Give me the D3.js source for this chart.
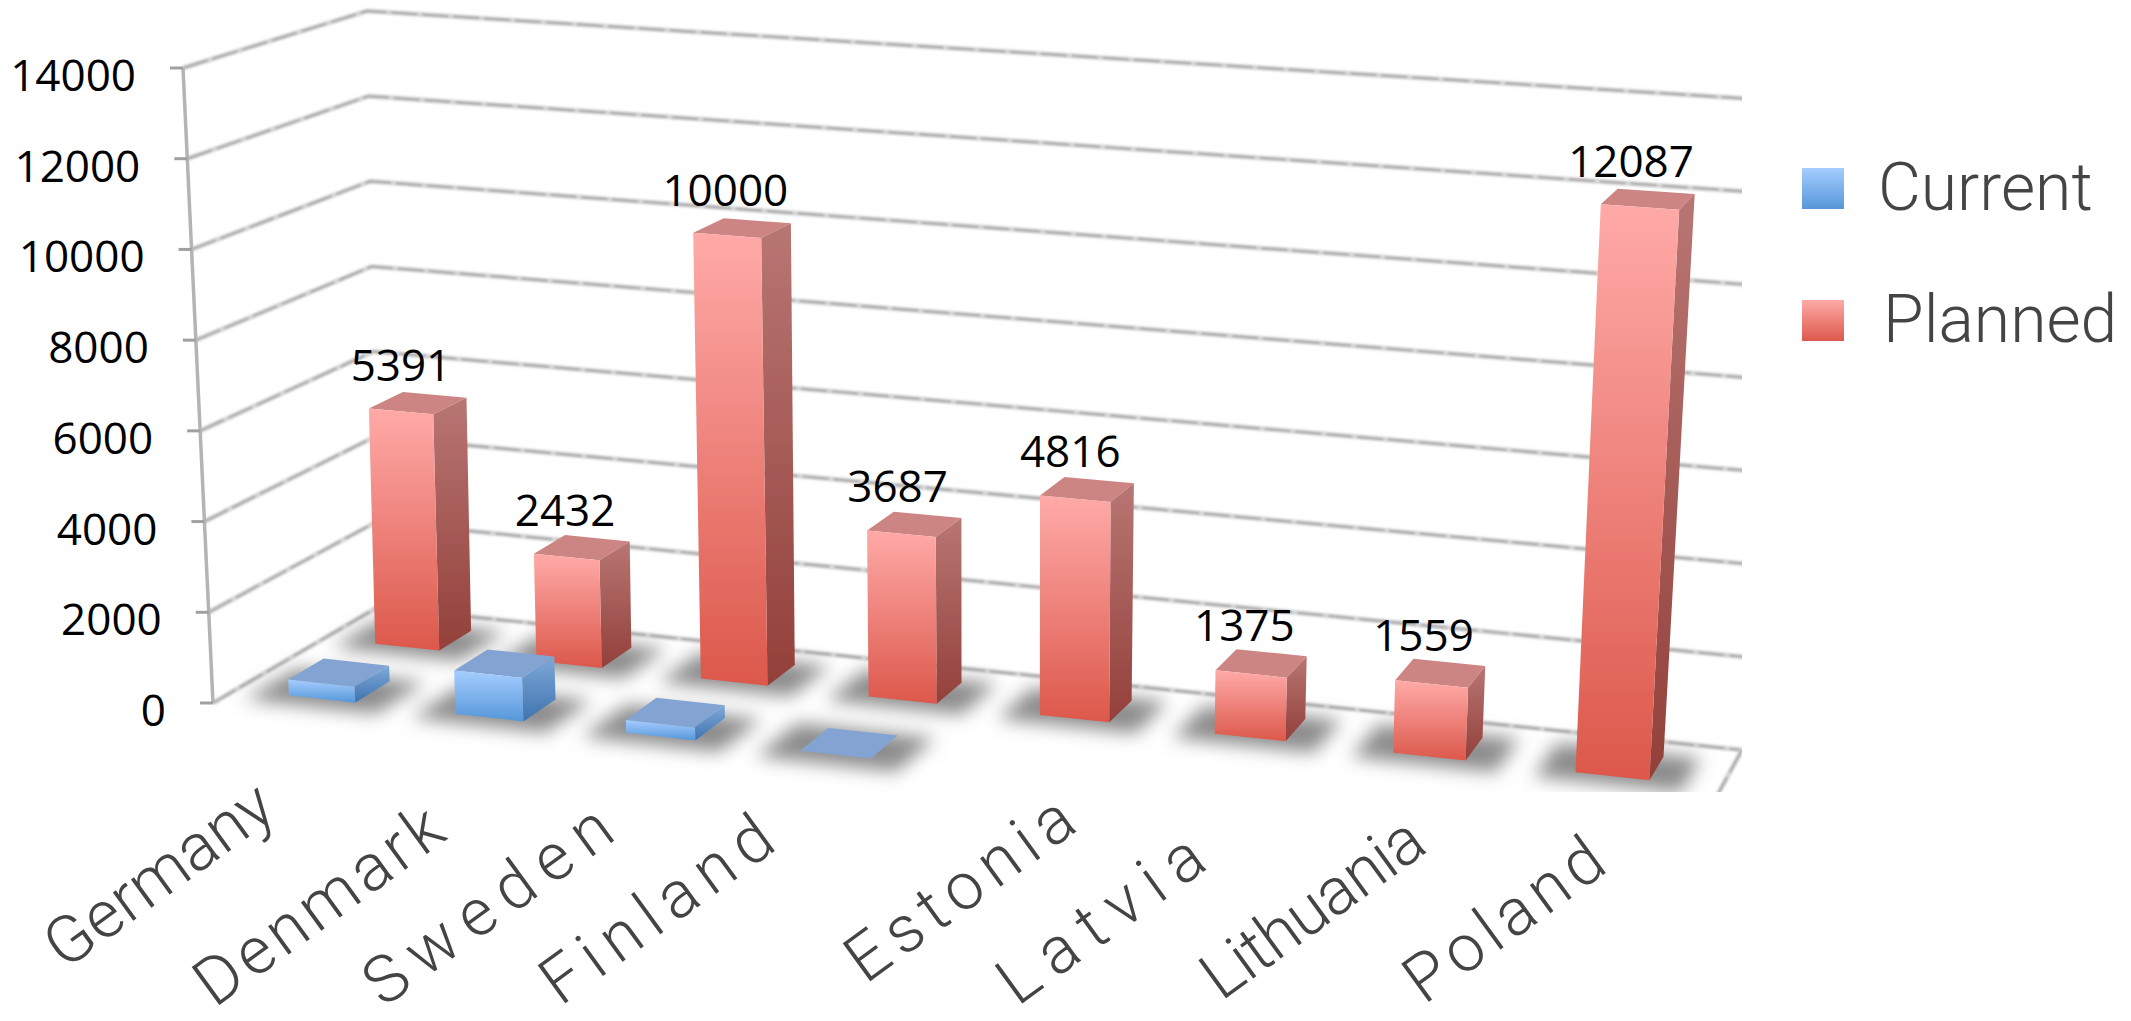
<!DOCTYPE html>
<html lang="en">
<head>
<meta charset="utf-8">
<title>Current and planned capacity</title>
<script src="https://d3js.org/d3.v7.min.js"></script>
<style>
  body { margin: 0; background: #fff; }
  svg { display: block; }
  .num { font-family: "Open Sans", sans-serif; font-size: 44px; fill: #000; }
  .cat { font-family: Roboto, sans-serif; font-weight: 300; font-size: 66px; fill: #444; }
  .leg { font-family: Roboto, sans-serif; font-weight: 300; font-size: 66px; fill: #444; }
</style>
</head>
<body>
<svg width="2131" height="1021"></svg>
<script>
// data
const categories = ["Germany", "Denmark", "Sweden", "Finland", "Estonia", "Latvia", "Lithuania", "Poland"];
const current = [350, 950, 280, 30, 0, 0, 0, 0];
const planned = [5391, 2432, 10000, 3687, 4816, 1375, 1559, 12087];
const seriesNames = ["Current", "Planned"];
const yTicks = [0, 2000, 4000, 6000, 8000, 10000, 12000, 14000];

// where each rotated category label ends, this is just page layout
const labelEnds = [[279, 815], [449, 838], [618, 838], [779, 848], [1080, 829], [1210, 867], [1430, 850], [1610, 870]];
const labelLengths = [265, 290, 290, 270, 265, 238, 258, 230];

const svg = d3.select("svg");
const defs = svg.append("defs");

// the corners of the chart box, floor and the 14000 level
const floorQuad = [[213, 703], [1678, 867], [1742, 750], [378, 607]];
const topQuad = [[183, 68], [1712, 174], [1784, 101], [367, 11]];

function squareToQuad(q) {
  const [[x0, y0], [x1, y1], [x2, y2], [x3, y3]] = q;
  const dx1 = x1 - x2, dx2 = x3 - x2, sx = x0 - x1 + x2 - x3;
  const dy1 = y1 - y2, dy2 = y3 - y2, sy = y0 - y1 + y2 - y3;
  const den = dx1 * dy2 - dx2 * dy1;
  const g = (sx * dy2 - dx2 * sy) / den;
  const h = (dx1 * sy - sx * dy1) / den;
  const a = x1 - x0 + g * x1, b = x3 - x0 + h * x3;
  const d = y1 - y0 + g * y1, e = y3 - y0 + h * y3;
  return (u, w) => {
    const k = g * u + h * w + 1;
    return [(a * u + b * w + x0) / k, (d * u + e * w + y0) / k];
  };
}
const floorH = squareToQuad(floorQuad);
const topH = squareToQuad(topQuad);

const xBand = d3.scaleBand().domain(categories).range([0, 0.992]).paddingInner(0.6).paddingOuter(0.32);
const depth = d3.scaleBand().domain(seriesNames).range([0, 1]).paddingInner(0.6).paddingOuter(0.25);
const yLevel = d3.scaleLinear().domain([0, 14000]).range([0, 1]);

// u along the categories, w front to back, v the value
function project(u, w, v) {
  const a = floorH(u, w), b = topH(u, w), t = yLevel(v);
  return [a[0] + (b[0] - a[0]) * t, a[1] + (b[1] - a[1]) * t];
}
const poly = pts => "M" + pts.map(p => p.join(",")).join("L") + "Z";

function gradient(id, c0, c1) {
  const g = defs.append("linearGradient").attr("id", id).attr("x1", 0).attr("y1", 0).attr("x2", 0).attr("y2", 1);
  g.append("stop").attr("offset", "0%").attr("stop-color", c0);
  g.append("stop").attr("offset", "100%").attr("stop-color", c1);
}
gradient("frontPlanned", "#ffaaa8", "#dc584b");
gradient("sidePlanned", "#b87673", "#93403a");
gradient("frontCurrent", "#a6cdff", "#5597d9");
gradient("sideCurrent", "#7ea8d8", "#3f74ae");
gradient("legCurrent", "#a6cdff", "#5597d9");
gradient("legPlanned", "#ffaaa8", "#dc584b");
const topColor = { Current: "#83a4d2", Planned: "#cc8583" };

defs.append("filter").attr("id", "soft").attr("x", "-5%").attr("y", "-5%").attr("width", "110%").attr("height", "110%")
  .append("feGaussianBlur").attr("stdDeviation", 0.8);
defs.append("filter").attr("id", "shadow").attr("x", "-30%").attr("y", "-30%").attr("width", "160%").attr("height", "160%")
  .append("feGaussianBlur").attr("stdDeviation", 9);
defs.append("filter").attr("id", "edge").attr("x", "-5%").attr("y", "-5%").attr("width", "110%").attr("height", "110%")
  .append("feGaussianBlur").attr("stdDeviation", 0.6);
defs.append("clipPath").attr("id", "plot").append("rect").attr("x", 0).attr("y", 0).attr("width", 1742).attr("height", 792);

const plot = svg.append("g").attr("clip-path", "url(#plot)");

// grid on the two walls, a pale wide stroke with a broken darker core
const gridPaths = [];
yTicks.forEach(t => gridPaths.push([project(0, 0, t), project(0, 1, t), project(1, 1, t)]));
gridPaths.push([project(1, 1, 0), project(1, 0, 0)]);
const grid = plot.append("g").attr("filter", "url(#soft)").attr("fill", "none");
gridPaths.forEach(p => {
  grid.append("path").attr("d", d3.line()(p)).attr("stroke", "#d6d6d6").attr("stroke-width", 5);
  grid.append("path").attr("d", d3.line()(p)).attr("stroke", "#a2a2a2").attr("stroke-width", 2)
    .attr("stroke-dasharray", "26 5");
});

// axis and its ticks
plot.append("path").attr("d", d3.line()([project(0, 0, 0), project(0, 0, 14000)]))
  .attr("stroke", "#b4b4b4").attr("stroke-width", 3.5).attr("fill", "none");
yTicks.forEach(t => {
  const p = project(0, 0, t);
  plot.append("line").attr("x1", p[0] - 13).attr("x2", p[0]).attr("y1", p[1]).attr("y2", p[1])
    .attr("stroke", "#a0a0a0").attr("stroke-width", 3);
  svg.append("text").attr("class", "num").attr("x", p[0] - 47).attr("y", p[1] + 23)
    .attr("text-anchor", "end").text(t);
});

function footprint(name, cat, grow) {
  const u0 = xBand(cat) - grow, u1 = xBand(cat) + xBand.bandwidth() + grow;
  const w0 = depth(name) - grow * 3, w1 = depth(name) + depth.bandwidth() + grow;
  return [[u0, w0], [u1, w0], [u1, w1], [u0, w1]];
}

// shadows first, so they stay under every bar
const shadows = plot.append("g").attr("filter", "url(#shadow)").attr("fill", "#8c8c8c");
function drawShadow(name, values) {
  categories.forEach((cat, i) => {
    if (values[i] <= 0) return;
    shadows.append("path").attr("d", poly(footprint(name, cat, 0.024).map(c => project(c[0], c[1], 0))));
  });
}
drawShadow("Planned", planned);
drawShadow("Current", current);

function drawBars(name, values) {
  const g = plot.append("g").attr("filter", "url(#edge)");
  categories.forEach((cat, i) => {
    const v = values[i];
    if (v <= 0) return;
    const f = footprint(name, cat, 0);
    const base = f.map(c => project(c[0], c[1], 0));
    const top = f.map(c => project(c[0], c[1], v));
    g.append("path").attr("d", poly([top[0], top[1], top[2], top[3]])).attr("fill", topColor[name]);
    if (v > 60) {
      g.append("path").attr("d", poly([top[1], top[2], base[2], base[1]])).attr("fill", "url(#side" + name + ")");
      g.append("path").attr("d", poly([top[0], top[1], base[1], base[0]])).attr("fill", "url(#front" + name + ")");
    }
  });
}
drawBars("Planned", planned);
drawBars("Current", current);

// value labels over the planned bars
categories.forEach((cat, i) => {
  const p = project(xBand(cat) + xBand.bandwidth() / 2, depth("Planned") + depth.bandwidth() / 2, planned[i]);
  svg.append("text").attr("class", "num").attr("text-anchor", "middle")
    .attr("x", p[0] - 17).attr("y", p[1] - 22).text(planned[i]);
});

// category labels
categories.forEach((cat, i) => {
  svg.append("text").attr("class", "cat").attr("text-anchor", "end")
    .attr("transform", "translate(" + labelEnds[i] + ") rotate(-36)")
    .attr("textLength", labelLengths[i]).attr("lengthAdjust", "spacing").text(cat);
});

// legend
seriesNames.forEach((name, i) => {
  const y = 168 + i * 132;
  svg.append("rect").attr("x", 1802).attr("y", y).attr("width", 42).attr("height", 41).attr("fill", "url(#leg" + name + ")");
  svg.append("text").attr("class", "leg").attr("x", i ? 1883 : 1878).attr("y", y + 42).text(name);
});
</script>
</body>
</html>
